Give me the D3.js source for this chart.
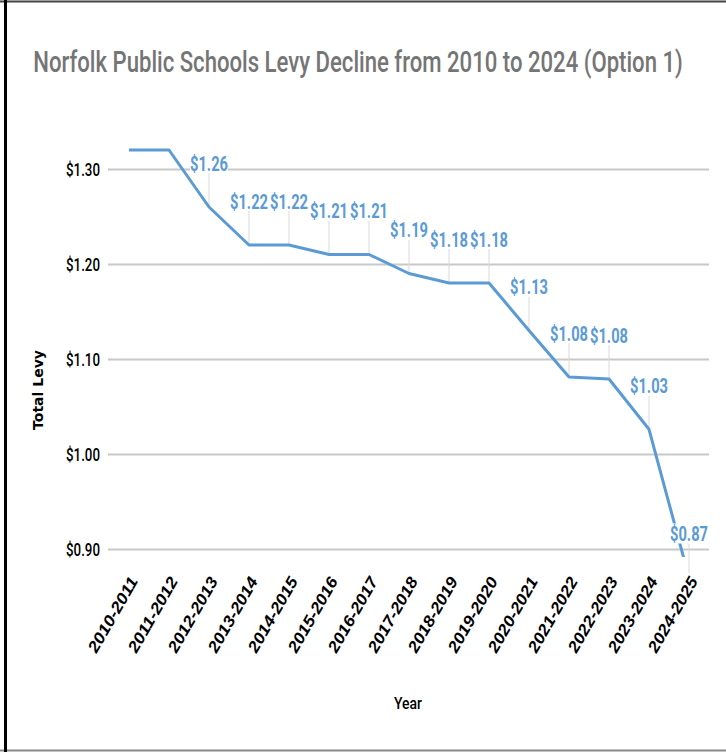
<!DOCTYPE html>
<html>
<head>
<meta charset="utf-8">
<script src="https://cdn.jsdelivr.net/npm/d3@7"></script>
<style>
    body { margin: 0; background: #fff; }
    #chart-area { width: 726px; height: 752px; }
</style>
</head>
<body>
<div id="chart-area"></div>
<script>
// data
let years = ["2010-2011", "2011-2012", "2012-2013", "2013-2014", "2014-2015", "2015-2016", "2016-2017",
    "2017-2018", "2018-2019", "2019-2020", "2020-2021", "2021-2022", "2022-2023", "2023-2024", "2024-2025"];
let levy = [1.32, 1.32, 1.26, 1.22, 1.22, 1.21, 1.21, 1.19, 1.18, 1.18, 1.13, 1.081, 1.079, 1.026, 0.87];
// first two points have no callout in the original
let showLabel = [false, false, true, true, true, true, true, true, true, true, true, true, true, true, true];
let yTicks = [0.9, 1.0, 1.1, 1.2, 1.3];

let titleText = "Norfolk Public Schools Levy Decline from 2010 to 2024 (Option 1)";

// squeeze a text horizontally so it is w px wide (the original uses condensed fonts)
function squeeze(sel, w, prefix) {
    sel.each(function () {
        let len = this.getComputedTextLength();
        let s = Math.min(1, w / len);
        d3.select(this).attr("transform", (prefix || "") + " scale(" + s + ",1)");
    });
}

class LevyChart {

    constructor(parentElement) {
        this.parentElement = parentElement;
        this.initVis();
    }

    initVis() {
        let vis = this;

        vis.width = 726;
        vis.height = 752;

        vis.svg = d3.select("#" + vis.parentElement).append("svg")
            .attr("width", vis.width)
            .attr("height", vis.height);

        // frame
        vis.svg.append("line").attr("x1", 0).attr("x2", vis.width).attr("y1", 1.5).attr("y2", 1.5)
            .attr("stroke", "#444").attr("stroke-width", 2);
        vis.svg.append("line").attr("x1", 0).attr("x2", vis.width).attr("y1", 750.5).attr("y2", 750.5)
            .attr("stroke", "#888").attr("stroke-width", 2);
        vis.svg.append("line").attr("x1", 5.5).attr("x2", 5.5).attr("y1", 0).attr("y2", vis.height)
            .attr("stroke", "#000").attr("stroke-width", 3);

        // title
        vis.svg.append("text")
            .attr("text-anchor", "middle")
            .style("font-family", "Roboto, 'Open Sans', sans-serif")
            .style("font-weight", 500)
            .style("font-size", "29px")
            .style("fill", "#757575")
            .text(titleText)
            .call(squeeze, 650, "translate(358,72)");

        // scales
        vis.x = d3.scalePoint().domain(years).range([129, 689]);
        vis.y = d3.scaleLinear().domain([0.9, 1.3]).range([549, 169]);

        vis.plotLeft = 108;
        vis.plotRight = 709;

        vis.defs = vis.svg.append("defs");
        vis.defs.append("clipPath").attr("id", "plot-clip")
            .append("rect").attr("x", vis.plotLeft).attr("y", 120)
            .attr("width", vis.plotRight - vis.plotLeft).attr("height", 437);

        // gridlines + y tick labels via axis
        vis.yAxis = d3.axisLeft(vis.y)
            .tickValues(yTicks)
            .tickSize(-(vis.plotRight - vis.plotLeft))
            .tickPadding(8)
            .tickFormat(d => "$" + d3.format(".2f")(d));

        vis.yAxisGroup = vis.svg.append("g")
            .attr("class", "y-axis")
            .attr("transform", "translate(" + vis.plotLeft + ",0)")
            .call(vis.yAxis);
        vis.yAxisGroup.select(".domain").remove();
        vis.yAxisGroup.selectAll(".tick line")
            .attr("stroke", "#c8c8c8").attr("stroke-width", 2);
        vis.yAxisGroup.selectAll(".tick text")
            .attr("x", 0).attr("dy", "0.35em")
            .style("font-family", "Roboto, sans-serif")
            .style("font-weight", 500)
            .style("font-size", "18px")
            .style("fill", "#000")
            .call(squeeze, 34, "translate(-8,0)");

        // x tick labels via axis
        vis.xAxis = d3.axisBottom(vis.x).tickSize(0).tickPadding(0);
        vis.xAxisGroup = vis.svg.append("g")
            .attr("class", "x-axis")
            .attr("transform", "translate(0,578)")
            .call(vis.xAxis);
        vis.xAxisGroup.select(".domain").remove();
        vis.xAxisGroup.selectAll(".tick text")
            .attr("text-anchor", "end")
            .attr("y", 0).attr("dy", 0)
            .attr("transform", "translate(9,3) rotate(-60)")
            .attr("textLength", 84)
            .attr("lengthAdjust", "spacingAndGlyphs")
            .style("font-family", "'Liberation Sans', Arial, sans-serif")
            .style("font-weight", "bold")
            .style("font-style", "italic")
            .style("font-size", "16px")
            .style("fill", "#000");

        // axis titles
        vis.svg.append("text")
            .attr("transform", "translate(43,390) rotate(-90)")
            .attr("text-anchor", "middle")
            .style("font-family", "'DejaVu Sans', sans-serif")
            .style("font-weight", "bold")
            .style("font-size", "14px")
            .style("fill", "#000")
            .text("Total Levy");

        vis.svg.append("text")
            .attr("text-anchor", "middle")
            .style("font-family", "Roboto, sans-serif")
            .style("font-weight", 500)
            .style("font-size", "17px")
            .style("fill", "#000")
            .text("Year")
            .call(squeeze, 28, "translate(408,709)");

        vis.leaderGroup = vis.svg.append("g").attr("class", "leaders");
        vis.lineGroup = vis.svg.append("g").attr("clip-path", "url(#plot-clip)");
        vis.labelGroup = vis.svg.append("g").attr("class", "labels");

        vis.wrangleData();
    }

    wrangleData() {
        let vis = this;
        vis.displayData = years.map((yr, i) => ({year: yr, value: levy[i], label: showLabel[i]}));
        vis.updateVis();
    }

    updateVis() {
        let vis = this;

        // label sits ~44px above its point, but never below the plot floor
        let labelY = d => Math.min(vis.y(d.value) - 44, 538);
        let labelled = vis.displayData.filter(d => d.label);

        vis.leaderGroup.selectAll("line")
            .data(labelled)
            .enter().append("line")
            .attr("x1", d => vis.x(d.year)).attr("x2", d => vis.x(d.year))
            .attr("y1", d => labelY(d) + 10)
            .attr("y2", d => Math.min(vis.y(d.value), 573))
            .attr("stroke", "#d9d9d9").attr("stroke-width", 1);

        let line = d3.line()
            .x(d => vis.x(d.year))
            .y(d => vis.y(d.value));

        vis.lineGroup.append("path")
            .datum(vis.displayData)
            .attr("d", line)
            .attr("fill", "none")
            .attr("stroke", "#5b9bd5")
            .attr("stroke-width", 3)
            .attr("stroke-linejoin", "round");

        let labels = vis.labelGroup.selectAll("g")
            .data(labelled)
            .enter().append("g")
            .attr("transform", d => "translate(" + vis.x(d.year) + "," + labelY(d) + ")");

        labels.append("rect")
            .attr("x", -19).attr("y", -10)
            .attr("width", 38).attr("height", 20)
            .attr("fill", "#fff");

        labels.append("text")
            .attr("text-anchor", "middle")
            .attr("dy", "0.36em")
            .style("font-family", "Roboto, sans-serif")
            .style("font-weight", "bold")
            .style("font-size", "21px")
            .style("fill", "#5b9bd5")
            .text(d => "$" + d3.format(".2f")(d.value))
            .call(squeeze, 38);
    }
}

let levyChart = new LevyChart("chart-area");
</script>
</body>
</html>
